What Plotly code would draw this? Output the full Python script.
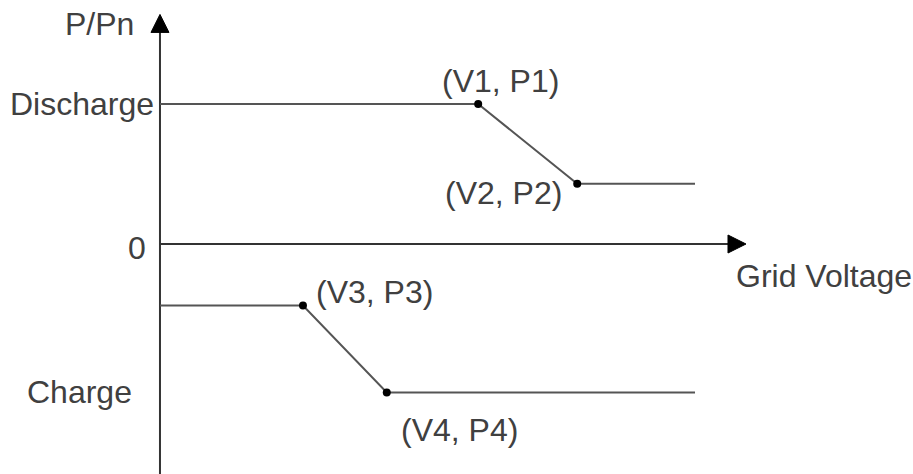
import plotly.graph_objects as go

# --- data (grid voltage in arbitrary units, power as P/Pn) ---
discharge_v = [0.0, 5.43, 7.12, 9.13]
discharge_p = [1.0, 1.0, 0.43, 0.43]
charge_v = [0.0, 2.44, 3.87, 9.13]
charge_p = [-0.44, -0.44, -1.06, -1.06]

point_labels = ["(V1, P1)", "(V2, P2)", "(V3, P3)", "(V4, P4)"]
level_labels = ["Discharge", "0", "Charge"]
level_values = [1.0, 0.0, -1.06]
x_title = "Grid Voltage"
y_title = "P/Pn"

x_axis_end = 10.0
y_axis_top = 1.64
y_axis_bottom = -1.65

FONT = "Liberation Sans, Arial, sans-serif"
TXT = "#404040"
AXIS = "#333333"
CURVE = "#555555"

fig = go.Figure()

# axes
fig.add_trace(go.Scatter(
    x=[0, 0], y=[y_axis_bottom, y_axis_top - 0.05], mode="lines",
    line=dict(color=AXIS, width=2), hoverinfo="skip", showlegend=False,
))
fig.add_trace(go.Scatter(
    x=[0, x_axis_end - 0.1], y=[0, 0], mode="lines",
    line=dict(color=AXIS, width=2), hoverinfo="skip", showlegend=False,
))
fig.add_trace(go.Scatter(
    x=[0], y=[y_axis_top], mode="markers",
    marker=dict(symbol="arrow-up", size=18, color="black",
                line=dict(width=1, color="black")),
    hoverinfo="skip", showlegend=False,
))
fig.add_trace(go.Scatter(
    x=[x_axis_end], y=[0], mode="markers",
    marker=dict(symbol="arrow-right", size=18, color="black",
                line=dict(width=1, color="black")),
    hoverinfo="skip", showlegend=False,
))

# curves
fig.add_trace(go.Scatter(
    x=discharge_v, y=discharge_p, mode="lines",
    line=dict(color=CURVE, width=2), showlegend=False,
))
fig.add_trace(go.Scatter(
    x=charge_v, y=charge_p, mode="lines",
    line=dict(color=CURVE, width=2), showlegend=False,
))
# break points
pts_v = discharge_v[1:3] + charge_v[1:3]
pts_p = discharge_p[1:3] + charge_p[1:3]
fig.add_trace(go.Scatter(
    x=pts_v, y=pts_p, mode="markers",
    marker=dict(color="black", size=8), showlegend=False,
))

# point labels: (xanchor, xshift, yshift)
offsets = [("center", 22, 23), ("right", -13, -9), ("left", 11, 14), ("left", 12, -38)]
for lab, v, p, (xa, dx, dy) in zip(point_labels, pts_v, pts_p, offsets):
    fig.add_annotation(x=v, y=p, text=lab, showarrow=False,
                       xanchor=xa, yanchor="middle", xshift=dx, yshift=dy)

# level labels on the y axis
lvl_shift = [(-4, 0), (-12, -4), (-26, 0)]
for lab, val, (dx, dy) in zip(level_labels, level_values, lvl_shift):
    fig.add_annotation(x=0, y=val, text=lab, showarrow=False,
                       xanchor="right", yanchor="middle", xshift=dx, yshift=dy)

fig.add_annotation(x=0, y=y_axis_top, text=y_title, showarrow=False,
                   xanchor="right", yanchor="middle", xshift=-24, yshift=-10)
fig.add_annotation(x=x_axis_end, y=0, text=x_title, showarrow=False,
                   xanchor="left", yanchor="middle", xshift=-12, yshift=-32)

fig.update_annotations(font=dict(family=FONT, size=32, color=TXT))

fig.update_layout(
    width=913, height=474,
    margin=dict(l=0, r=0, t=0, b=0),
    plot_bgcolor="white", paper_bgcolor="white",
    xaxis=dict(range=[-2.730, 12.850], visible=False, fixedrange=True),
    yaxis=dict(range=[-1.643, 1.743], visible=False, fixedrange=True),
    showlegend=False,
)

# the page body has a default 8px margin; drop it so the figure sits at 0,0
fig.write_html("out.html", config={"displayModeBar": False},
               post_script="document.body.style.margin='0';")
